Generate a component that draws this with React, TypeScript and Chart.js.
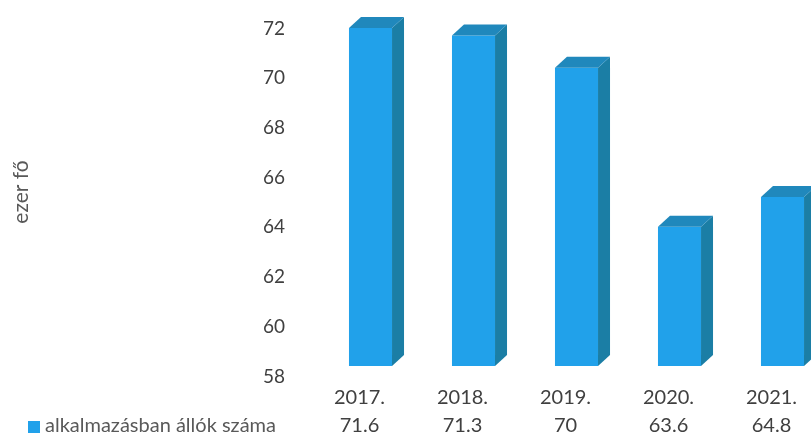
import React, { useEffect, useRef } from "react";
import { Chart, registerables } from "chart.js";

Chart.register(...registerables);

// ---- data ----
const categories: string[] = ["2017.", "2018.", "2019.", "2020.", "2021."];
const values: number[] = [71.6, 71.3, 70, 63.6, 64.8];
const seriesName = "alkalmazásban állók száma";
const axisTitle = "ezer fő";
const yMin = 58;
const yMax = 72;
const yStep = 2;

// ---- styles ----
const FRONT = "#21A1EA";
const SIDE = "#1B7EA5";
const TOP = "#2088BC";
const FONT = "Lato, 'Open Sans', sans-serif";
const TEXT = "#404040";

const bar3d = {
  id: "bar3d",
  afterDatasetsDraw(chart: any) {
    const ctx = chart.ctx;
    const meta = chart.getDatasetMeta(0);
    const dx = 12;
    const dy = -11;
    meta.data.forEach((el: any) => {
      const { x, y, base, width } = el.getProps(["x", "y", "base", "width"], true);
      const l = x - width / 2;
      const r = x + width / 2;
      ctx.save();
      ctx.fillStyle = SIDE;
      ctx.beginPath();
      ctx.moveTo(r, y);
      ctx.lineTo(r + dx, y + dy);
      ctx.lineTo(r + dx, base + dy);
      ctx.lineTo(r, base);
      ctx.closePath();
      ctx.fill();
      ctx.fillStyle = TOP;
      ctx.beginPath();
      ctx.moveTo(l, y);
      ctx.lineTo(l + dx, y + dy);
      ctx.lineTo(r + dx, y + dy);
      ctx.lineTo(r, y);
      ctx.closePath();
      ctx.fill();
      ctx.restore();
    });
  },
};

const tableLegend = {
  id: "tableLegend",
  afterDraw(chart: any) {
    const ctx = chart.ctx;
    const ds = chart.data.datasets[0];
    const xs = chart.scales.x;
    const rowY = xs.top + 18 + 28 + 14;
    ctx.save();
    ctx.fillStyle = ds.backgroundColor;
    ctx.fillRect(28, rowY - 5, 12, 12);
    ctx.font = `20px ${FONT}`;
    ctx.fillStyle = "#595959";
    ctx.textBaseline = "middle";
    ctx.textAlign = "left";
    ctx.fillText(ds.label, 45, rowY);
    ctx.restore();
  },
};

export default function App() {
  const ref = useRef<HTMLCanvasElement | null>(null);

  useEffect(() => {
    if (!ref.current) return;
    const chart = new Chart(ref.current, {
      type: "bar",
      data: {
        labels: categories.map((c, i) => [c, String(values[i])]),
        datasets: [
          {
            label: seriesName,
            data: values,
            base: yMin,
            backgroundColor: FRONT,
            borderWidth: 0,
            categoryPercentage: 1,
            barPercentage: 0.418,
          },
        ],
      },
      options: {
        responsive: false,
        animation: false,
        layout: { padding: { top: 18, right: 16, bottom: 0, left: 0 } },
        plugins: {
          legend: { display: false },
          tooltip: { enabled: false },
        },
        scales: {
          x: {
            grid: { display: false, drawTicks: true, tickLength: 18 },
            border: { display: false },
            ticks: {
              font: { family: FONT, size: 20, lineHeight: "28px" },
              color: TEXT,
              padding: 0,
              labelOffset: -11,
              maxRotation: 0,
              autoSkip: false,
            },
            afterFit(scale: any) {
              scale.height = 72;
            },
          },
          y: {
            min: yMin,
            max: yMax,
            grid: { display: false, drawTicks: true, tickLength: 34 },
            border: { display: false },
            ticks: {
              stepSize: yStep,
              font: { family: FONT, size: 19 },
              color: TEXT,
              padding: 0,
              labelOffset: 10.5,
              autoSkip: false,
            },
            title: {
              display: true,
              text: axisTitle,
              font: { family: FONT, size: 21 },
              color: "#595959",
              padding: { top: 9, bottom: 0 },
            },
            afterFit(scale: any) {
              scale.width = 319;
            },
          },
        },
      },
      plugins: [bar3d, tableLegend],
    });
    return () => chart.destroy();
  }, []);

  return (
    <div
      style={{
        position: "absolute",
        left: 0,
        top: 0,
        width: 811,
        height: 438,
        overflow: "hidden",
        background: "#fff",
      }}
    >
      <canvas ref={ref} width={850} height={438} style={{ display: "block" }} />
    </div>
  );
}
